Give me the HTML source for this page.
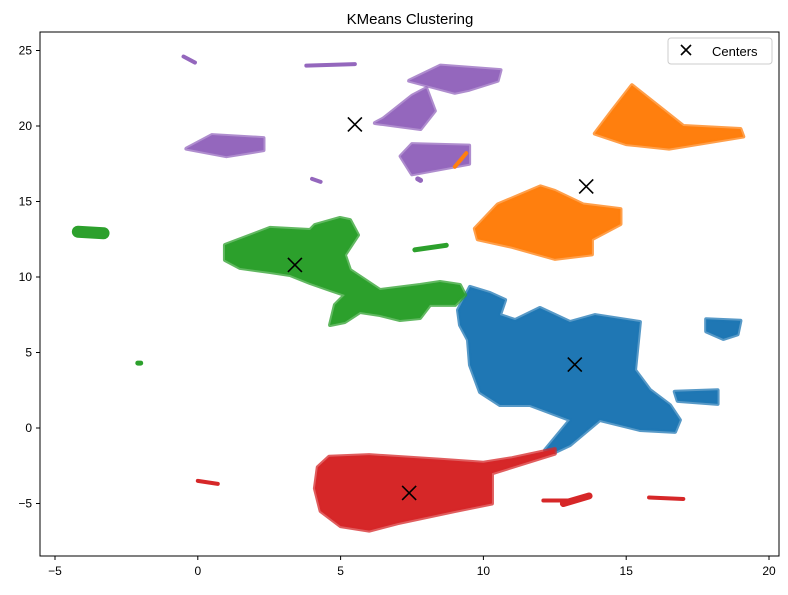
<!DOCTYPE html>
<html><head><meta charset="utf-8"><style>
body{margin:0;background:#fff;font-family:"Liberation Sans","DejaVu Sans",sans-serif}
svg text{font-family:"Liberation Sans","DejaVu Sans",sans-serif}
</style></head><body>
<svg id="chart" width="788" height="590" viewBox="0 0 788 590" xmlns="http://www.w3.org/2000/svg">
<rect width="788" height="590" fill="#fff"/>
<text x="410" y="24" font-size="15" text-anchor="middle">KMeans Clustering</text>
<g id="marks"></g>
<rect x="40" y="32" width="739" height="524" fill="none" stroke="#000" stroke-width="1"/>
<g id="axes"></g>
<g>
<rect x="668" y="38" width="104" height="26" rx="3" fill="#fff" stroke="#ccc"/>
<path d="M681,45 l10,10 M691,45 l-10,10" stroke="#000" stroke-width="1.6"/>
<text x="712" y="56" font-size="13">Centers</text>
</g>
</svg>
<script>
const xTicks=[-5,0,5,10,15,20];
const yTicks=[-5,0,5,10,15,20,25];
const clusterNames=["cluster-0","cluster-1","cluster-2","cluster-3","cluster-4"];
const clusterColors=["#1f77b4","#ff7f0e","#2ca02c","#d62728","#9467bd"];
const blobCluster=[0,0,0,1,1,2,3,4,4,4,4];
const blobPoints=[
[[9.53,9.34],[10.23,8.94],[10.76,8.48],[10.58,7.48],[11.11,7.15],[11.98,7.95],[13.03,7.02],[13.91,7.48],[15.48,7.02],[15.31,3.84],[15.83,2.52],[16.53,1.52],[16.88,0.53],[16.71,-0.26],[15.48,-0.13],[14.08,0.53],[13.03,-1.13],[12.51,-1.59],[12.16,-1.46],[13.03,0.53],[11.63,1.52],[10.58,1.52],[9.88,2.38],[9.53,4.17],[9.46,5.83],[9.18,6.82],[9.11,7.81]],
[[17.8,7.2],[19,7.1],[18.9,6.2],[18.4,5.9],[17.8,6.4]],
[[16.7,2.4],[18.2,2.5],[18.2,1.6],[16.8,1.8]],
[[13.9,19.5],[14.5,21],[15.2,22.7],[16,21.5],[17,20],[19,19.8],[19.1,19.3],[16.5,18.5],[15,18.8]],
[[9.7,13.2],[10.5,14.8],[12,16],[12.5,15.7],[13.5,14.8],[14.8,14.5],[14.8,13.5],[13.8,12.5],[13.8,11.5],[12.5,11.2],[11,12],[9.8,12.5]],
[[0.95,12.12],[2.53,13.25],[3.93,13.11],[4.1,13.44],[4.98,13.91],[5.33,13.77],[5.61,12.78],[5.15,11.46],[5.33,10.46],[6.38,9.14],[7.78,9.47],[8.48,9.67],[9.18,9.47],[9.36,8.81],[9.01,8.15],[8.13,8.15],[7.78,7.28],[7.08,7.15],[6.38,7.48],[5.68,7.68],[5.15,7.02],[4.63,6.82],[4.8,8.15],[5.15,8.81],[4.63,9.14],[3.93,9.6],[3.23,10.13],[2.53,10.33],[1.48,10.6],[0.95,11.13]],
[[4.2,-2.6],[4.6,-1.9],[6,-1.8],[8.5,-2.1],[10,-2.3],[11,-2.0],[12.5,-1.4],[12.5,-1.7],[10.3,-3],[10.3,-5],[9,-5.5],[7,-6.3],[6,-6.8],[5,-6.5],[4.3,-5.5],[4.1,-4]],
[[7.4,23],[8.5,24],[10.6,23.7],[10.5,23],[9.5,22.4],[9,22.2]],
[[6.5,20.5],[7.5,22],[8,22.5],[8.3,21],[7.8,19.8],[6.2,20.2]],
[[7.1,18],[7.5,18.8],[9.5,18.7],[9.5,17.5],[7.5,16.8]],
[[-0.4,18.5],[0.5,19.4],[2.3,19.2],[2.3,18.4],[1,18]]
];
const streakCluster=[2,2,2,3,3,3,3,4,4,4,4,1];
const streakX1=[-4.2,-2.1,7.6,0,12.1,12.8,15.8,-0.5,3.8,4,7.7,9];
const streakY1=[13,4.3,11.8,-3.5,-4.8,-5,-4.6,24.6,24,16.5,16.5,17.3];
const streakX2=[-3.3,-2.0,8.7,0.7,13.0,13.7,17.0,-0.1,5.5,4.3,7.8,9.4];
const streakY2=[12.9,4.3,12.1,-3.7,-4.8,-4.5,-4.7,24.2,24.1,16.3,16.4,18.2];
const streakW=[12,5,5,4,4,7,4,4,4,4,5,4];
const centerX=[13.2,13.6,3.4,7.4,5.5];
const centerY=[4.2,16,10.8,-4.3,20.1];
const X=v=>55+(v+5)*28.56;
const Y=v=>428-v*15.1;
const NS="http://www.w3.org/2000/svg";
const marks=document.getElementById('marks'),axes=document.getElementById('axes');
function mk(t,a,p){const e=document.createElementNS(NS,t);for(const k in a)e.setAttribute(k,a[k]);p.appendChild(e);return e;}
blobPoints.forEach((pts,i)=>{const c=clusterColors[blobCluster[i]];
const e=mk('polygon',{points:pts.map(p=>X(p[0])+','+Y(p[1])).join(' '),fill:c,stroke:c,'stroke-width':4,'stroke-linejoin':'round','stroke-opacity':0.75},marks);

});
streakX1.forEach((x,i)=>{const c=clusterColors[streakCluster[i]];
const e=mk('line',{x1:X(x),y1:Y(streakY1[i]),x2:X(streakX2[i]),y2:Y(streakY2[i]),stroke:c,'stroke-width':streakW[i],'stroke-linecap':'round'},marks);

});
centerX.forEach((x,i)=>{const cx=X(x),cy=Y(centerY[i]);
const e=mk('path',{d:`M${cx-7},${cy-7}L${cx+7},${cy+7}M${cx+7},${cy-7}L${cx-7},${cy+7}`,stroke:'#000','stroke-width':1.6},marks);

});
xTicks.forEach(t=>{const x=X(t);mk('line',{x1:x,y1:556,x2:x,y2:560,stroke:'#000'},axes);
const e=mk('text',{x:x,y:575,'font-size':12,'text-anchor':'middle'},axes);e.textContent=t<0?'−'+(-t):t;

});
yTicks.forEach(t=>{const y=Y(t);mk('line',{x1:36,y1:y,x2:40,y2:y,stroke:'#000'},axes);
const e=mk('text',{x:32,y:y+4,'font-size':12,'text-anchor':'end'},axes);e.textContent=t<0?'−'+(-t):t;

});
</script>
</body></html>
